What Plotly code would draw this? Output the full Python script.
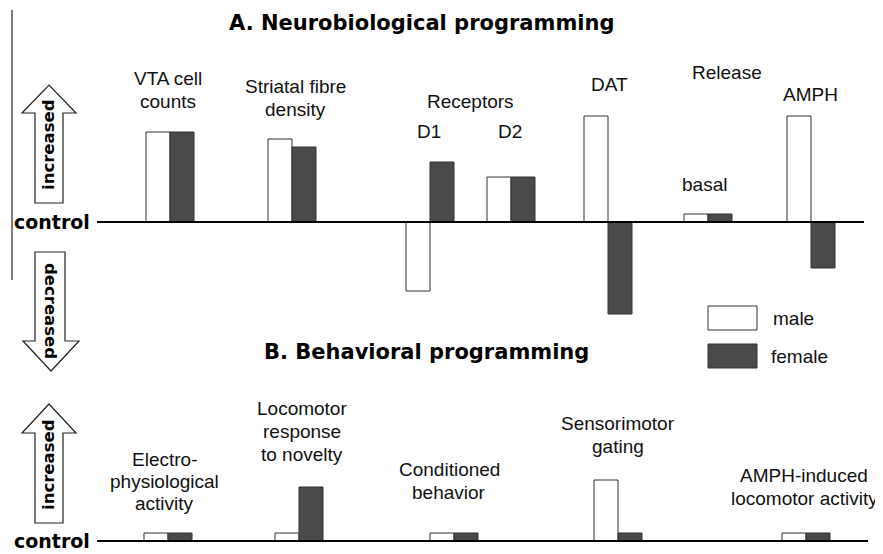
import plotly.graph_objects as go

# ---------------- data ----------------
sexes = ["male", "female"]

# Panel A: neurobiological programming (relative change vs control, arbitrary units)
cats_A = ["VTA cell counts", "Striatal fibre density", "D1", "D2", "DAT", "basal", "AMPH"]
male_A = [90, 83, -69, 45, 106, 8, 106]
female_A = [90, 75, 60, 45, -92, 8, -46]

# Panel B: behavioral programming
cats_B = ["Electro-physiological activity", "Locomotor response to novelty",
          "Conditioned behavior", "Sensorimotor gating", "AMPH-induced locomotor activity"]
male_B = [8, 8, 8, 61, 8]
female_B = [8, 54, 8, 8, 8]

# ---------------- layout helpers (positions, not data) ----------------
WIN_W, WIN_H = 883, 554
PAGE_MARGIN = 8  # default body margin of the html page
W, H = WIN_W - PAGE_MARGIN, WIN_H - PAGE_MARGIN
pos_A = [170, 292, 430, 511, 608, 708, 811]
pos_B = [168, 299, 454, 618, 806]
BW = 24

MALE_FILL = "#ffffff"
FEMALE_FILL = "#4a4a4a"
EDGE = "#333333"
LABEL_FONT = dict(family="Liberation Sans, Arial, sans-serif", size=19, color="#111111")
BOLD_FONT = "DejaVu Sans"

fig = go.Figure()


def add_bars(xpos, vals, fill, name, yaxis):
    fig.add_trace(go.Bar(
        x=xpos, y=vals, width=BW, offset=-BW if name == "male" else 0,
        marker=dict(color=fill, line=dict(color=EDGE, width=1)),
        name=name, showlegend=False, xaxis="x", yaxis=yaxis,
        hovertext=cats_A if yaxis == "y" else cats_B,
    ))


add_bars(pos_A, male_A, MALE_FILL, "male", "y")
add_bars(pos_A, female_A, FEMALE_FILL, "female", "y")
add_bars(pos_B, male_B, MALE_FILL, "male", "y2")
add_bars(pos_B, female_B, FEMALE_FILL, "female", "y2")
# invisible trace to instantiate the pixel-coordinate overlay axis
fig.add_trace(go.Scatter(x=[None], y=[None], xaxis="x", yaxis="y3", showlegend=False))

shapes = []
# baselines (control)
shapes.append(dict(type="line", xref="x", yref="y", x0=97, x1=864, y0=0, y1=0,
                   line=dict(color="#000000", width=2)))
shapes.append(dict(type="line", xref="x", yref="y2", x0=97, x1=868, y0=0, y1=0,
                   line=dict(color="#000000", width=2)))
# left vertical rule
shapes.append(dict(type="line", xref="x", yref="y3", x0=12, x1=12, y0=10, y1=280,
                   line=dict(color="#555555", width=1.5)))
# block arrows
arrow_line = dict(color="#222222", width=1.2)
shapes.append(dict(type="path", xref="x", yref="y3",
                   path="M35,203 L63,203 L63,113 L76,113 L49,85 L22,113 L35,113 Z",
                   fillcolor="white", line=arrow_line))
shapes.append(dict(type="path", xref="x", yref="y3",
                   path="M35,252 L65,252 L65,341 L79,341 L51,371 L23,341 L35,341 Z",
                   fillcolor="white", line=arrow_line))
shapes.append(dict(type="path", xref="x", yref="y3",
                   path="M35,523 L63,523 L63,433 L76,433 L49,404 L22,433 L35,433 Z",
                   fillcolor="white", line=arrow_line))
# legend swatches
shapes.append(dict(type="rect", xref="x", yref="y3", x0=708, x1=757, y0=306, y1=330,
                   fillcolor=MALE_FILL, line=dict(color=EDGE, width=1)))
shapes.append(dict(type="rect", xref="x", yref="y3", x0=708, x1=757, y0=344, y1=368,
                   fillcolor=FEMALE_FILL, line=dict(color=EDGE, width=1)))

ann = []


def txt(x, y, s, font=None, **kw):
    d = dict(x=x, y=y, xref="x", yref="y3", text=s, showarrow=False,
             font=font or LABEL_FONT, xanchor="center", yanchor="middle")
    d.update(kw)
    ann.append(d)


# titles
txt(421, 23, "<b>A. Neurobiological programming</b>", dict(family=BOLD_FONT, size=21, color="#000"))
txt(426, 352, "<b>B. Behavioral programming</b>", dict(family=BOLD_FONT, size=21, color="#000"))
# control labels
txt(12, 222, "<b>control</b>", dict(family=BOLD_FONT, size=19, color="#000"), xanchor="left")
txt(12, 541, "<b>control</b>", dict(family=BOLD_FONT, size=19, color="#000"), xanchor="left")
# arrow texts
arrow_font = dict(family=BOLD_FONT, size=16.5, color="#000")
txt(48, 145, "<b>increased</b>", arrow_font, textangle=-90)
txt(51, 311, "<b>decreased</b>", arrow_font, textangle=90)
txt(48, 465, "<b>increased</b>", arrow_font, textangle=-90)

# panel A category labels
txt(168, 78, "VTA cell")
txt(168, 101, "counts")
txt(295, 86, "Striatal fibre")
txt(295, 109, "density")
txt(470, 101, "Receptors")
txt(429, 131, "D1")
txt(510, 131, "D2")
txt(609, 84, "DAT")
txt(727, 72, "Release")
txt(704, 184, "basal")
txt(810, 94, "AMPH")

# panel B category labels
txt(164, 459, "Electro-")
txt(164, 481, "physiological")
txt(164, 503, "activity")
txt(302, 408, "Locomotor")
txt(302, 431, "response")
txt(302, 454, "to novelty")
txt(449, 469, "Conditioned")
txt(449, 492, "behavior")
txt(618, 423, "Sensorimotor")
txt(618, 446, "gating")
txt(804, 475, "AMPH-induced")
txt(804, 498, "locomotor activity")

# legend texts
txt(771, 318, sexes[0], xanchor="left")
txt(769, 356, sexes[1], xanchor="left")

# axes are set up so that data units on x / y3 equal window pixels
fig.update_layout(
    width=W, height=H,
    margin=dict(l=0, r=0, t=0, b=0),
    paper_bgcolor="white", plot_bgcolor="white",
    barmode="overlay",
    xaxis=dict(range=[PAGE_MARGIN, WIN_W], visible=False, domain=[0, 1], fixedrange=True),
    yaxis=dict(range=[-(WIN_H - 222), 222 - PAGE_MARGIN], visible=False, domain=[0, 1],
               fixedrange=True),
    yaxis2=dict(range=[-(WIN_H - 541), 541 - PAGE_MARGIN], visible=False, overlaying="y",
                fixedrange=True),
    yaxis3=dict(range=[WIN_H, PAGE_MARGIN], visible=False, overlaying="y", fixedrange=True),
    shapes=shapes,
    annotations=ann,
    showlegend=False,
)

fig.write_html("out.html")
